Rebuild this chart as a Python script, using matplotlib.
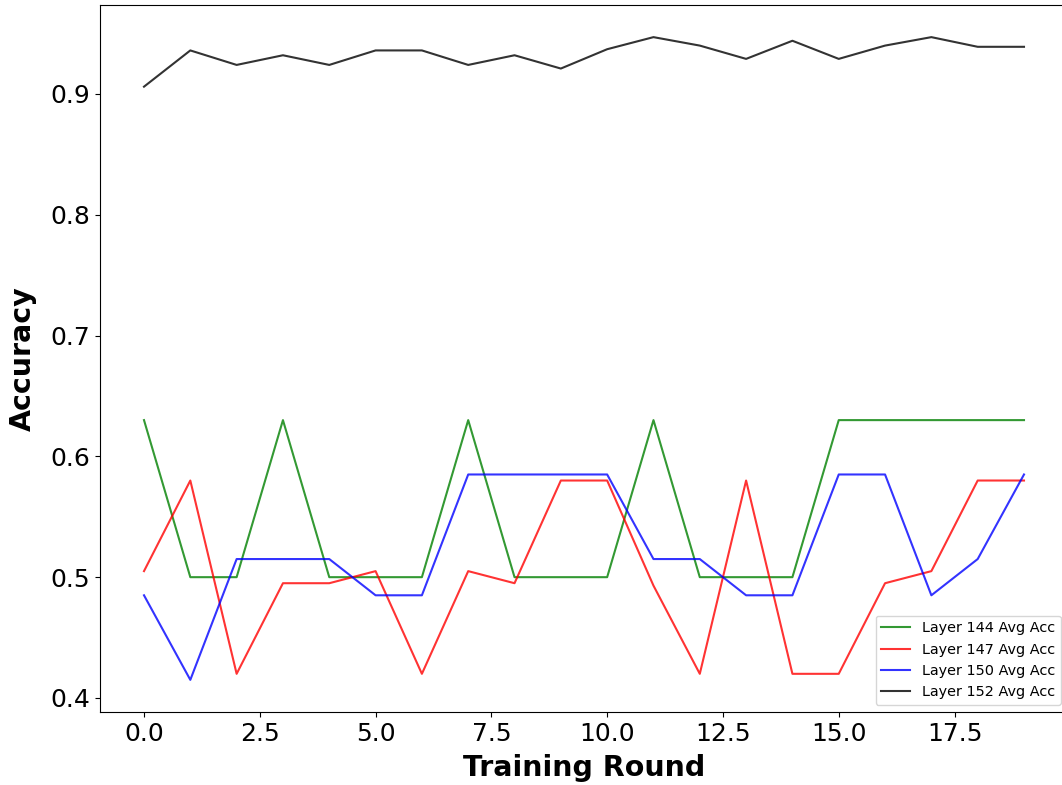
import matplotlib
matplotlib.use("Agg")
import matplotlib.pyplot as plt
import numpy as np

rounds = list(range(20))

layer144 = [0.63, 0.50, 0.50, 0.63, 0.50, 0.50, 0.50, 0.63, 0.50, 0.50,
            0.50, 0.63, 0.50, 0.50, 0.50, 0.63, 0.63, 0.63, 0.63, 0.63]
layer147 = [0.505, 0.58, 0.42, 0.495, 0.495, 0.505, 0.42, 0.505, 0.495, 0.58,
            0.58, 0.493, 0.42, 0.58, 0.42, 0.42, 0.495, 0.505, 0.58, 0.58]
layer150 = [0.485, 0.415, 0.515, 0.515, 0.515, 0.485, 0.485, 0.585, 0.585, 0.585,
            0.585, 0.515, 0.515, 0.485, 0.485, 0.585, 0.585, 0.485, 0.515, 0.585]
layer152 = [0.906, 0.936, 0.924, 0.932, 0.924, 0.936, 0.936, 0.924, 0.932, 0.921,
            0.937, 0.947, 0.940, 0.929, 0.944, 0.929, 0.940, 0.947, 0.939, 0.939]

series = [
    ("Layer 144 Avg Acc", layer144, "g"),
    ("Layer 147 Avg Acc", layer147, "r"),
    ("Layer 150 Avg Acc", layer150, "b"),
    ("Layer 152 Avg Acc", layer152, "k"),
]

fig = plt.figure(figsize=(10.62, 7.85), dpi=100)
# axes run a little past the right edge of the canvas
ax = fig.add_axes([100 / 1062, (785 - 712) / 785, 968 / 1062, 707 / 785])

for label, values, color in series:
    ax.plot(rounds, values, color=color, alpha=0.8, linewidth=1.5, label=label)

ax.set_xlabel("Training Round", fontsize=20.5, fontweight="bold", labelpad=6)
ax.set_ylabel("Accuracy", fontsize=20.5, fontweight="bold", labelpad=10)
ax.tick_params(axis="both", labelsize=18)
ax.legend(loc="lower right", fontsize=10.4)

fig.savefig("out.png", dpi=100)
